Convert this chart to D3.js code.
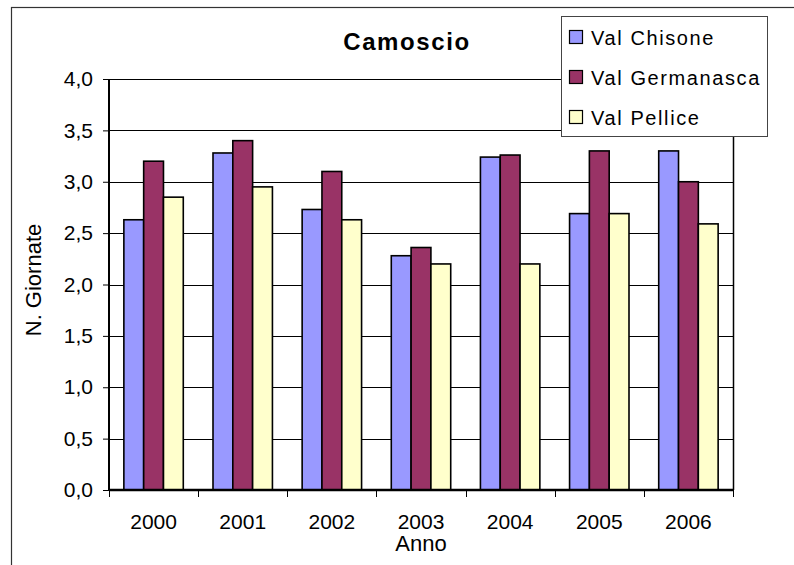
<!DOCTYPE html>
<html>
<head>
<meta charset="utf-8">
<script src="https://cdn.jsdelivr.net/npm/d3@7"></script>
<style>
  html, body { margin: 0; padding: 0; background: #fff; }
  svg { display: block; font-family: "Liberation Sans", Arial, sans-serif; }
</style>
</head>
<body>
<svg id="chart" width="794" height="565"></svg>
<script>
const years = ["2000", "2001", "2002", "2003", "2004", "2005", "2006"];
const seriesNames = ["Val Chisone", "Val Germanasca", "Val Pellice"];
const valChisone = [2.63, 3.28, 2.73, 2.28, 3.24, 2.69, 3.30];
const valGermanasca = [3.20, 3.40, 3.10, 2.36, 3.26, 3.30, 3.00];
const valPellice = [2.85, 2.95, 2.63, 2.20, 2.20, 2.69, 2.59];
const seriesColors = ["#9999FF", "#993366", "#FFFFCC"];
const yTicks = [0, 0.5, 1, 1.5, 2, 2.5, 3, 3.5, 4];
const titleText = "Camoscio";
const xTitle = "Anno";
const yTitle = "N. Giornate";

const seriesValues = [valChisone, valGermanasca, valPellice];

const svg = d3.select("#chart");
const plot = { left: 109, right: 733, top: 79, bottom: 490 };

// outer chart frame (only top and left edges fall inside the picture)
svg.append("rect")
  .attr("x", 11.5).attr("y", 7.5)
  .attr("width", 800).attr("height", 600)
  .attr("fill", "none").attr("stroke", "#333").attr("stroke-width", 1.2);

const y = d3.scaleLinear().domain([0, 4]).range([plot.bottom, plot.top]);
const gap = 1.5 / 4.5;
const x0 = d3.scaleBand().domain(years).range([plot.left, plot.right])
  .paddingInner(gap).paddingOuter(gap / 2);
const x1 = d3.scaleBand().domain(seriesNames).range([0, x0.bandwidth()]);

// gridlines
svg.append("g").selectAll("line").data(yTicks.filter(d => d > 0)).join("line")
  .attr("x1", plot.left).attr("x2", plot.right)
  .attr("y1", d => Math.round(y(d)) + 0.5).attr("y2", d => Math.round(y(d)) + 0.5)
  .attr("stroke", "#000").attr("stroke-width", 1);

// right border of plot area
svg.append("line")
  .attr("x1", plot.right + 0.5).attr("x2", plot.right + 0.5)
  .attr("y1", plot.top).attr("y2", plot.bottom)
  .attr("stroke", "#000").attr("stroke-width", 1.5);

// bars
const groups = svg.append("g").selectAll("g").data(years).join("g")
  .attr("transform", d => `translate(${x0(d)},0)`);
groups.selectAll("rect")
  .data((yr, i) => seriesNames.map((s, k) => ({ s, k, v: seriesValues[k][i] })))
  .join("rect")
  .attr("x", d => x1(d.s))
  .attr("width", x1.bandwidth())
  .attr("y", d => y(d.v))
  .attr("height", d => y(0) - y(d.v))
  .attr("fill", d => seriesColors[d.k])
  .attr("stroke", "#000").attr("stroke-width", 1.6);

// y axis
const yAxis = svg.append("g").attr("transform", `translate(${plot.left},0)`)
  .call(d3.axisLeft(y).tickValues(yTicks).tickSize(6).tickPadding(10)
    .tickFormat(d => d3.format(".1f")(d).replace(".", ",")));
yAxis.select(".domain").attr("stroke", "#000").attr("stroke-width", 2)
  .attr("d", `M0,${plot.top}V${plot.bottom}`);
yAxis.selectAll(".tick line").attr("stroke", "#000");
yAxis.selectAll(".tick text").attr("font-size", 21).attr("fill", "#000")
  .attr("font-family", "Liberation Sans, Arial, sans-serif");

// x axis
const xAxis = svg.append("g").attr("transform", `translate(0,${plot.bottom})`)
  .call(d3.axisBottom(x0).tickSize(0).tickPadding(24));
xAxis.select(".domain").attr("stroke", "#000").attr("stroke-width", 2.5)
  .attr("d", `M${plot.left},0H${plot.right}`);
xAxis.selectAll(".tick text").attr("font-size", 21).attr("fill", "#000")
  .attr("font-family", "Liberation Sans, Arial, sans-serif");
const boundaries = d3.range(years.length + 1).map(i => plot.left + i * x0.step());
xAxis.append("g").selectAll("line").data(boundaries).join("line")
  .attr("x1", d => Math.round(d) + 0.5).attr("x2", d => Math.round(d) + 0.5)
  .attr("y1", 0).attr("y2", 7)
  .attr("stroke", "#000").attr("stroke-width", 1);

// titles
svg.append("text").attr("x", 407).attr("y", 50)
  .attr("text-anchor", "middle").attr("font-size", 24).attr("font-weight", "bold")
  .attr("letter-spacing", 1.6).text(titleText);
svg.append("text").attr("x", (plot.left + plot.right) / 2).attr("y", 551)
  .attr("text-anchor", "middle").attr("font-size", 22).text(xTitle);
svg.append("text").attr("transform", "translate(41,280) rotate(-90)")
  .attr("text-anchor", "middle").attr("font-size", 22).text(yTitle);

// legend
const lg = svg.append("g");
lg.append("rect").attr("x", 561.5).attr("y", 16.5).attr("width", 206).attr("height", 120)
  .attr("fill", "#fff").attr("stroke", "#444").attr("stroke-width", 1);
const items = lg.selectAll("g.item").data(seriesNames).join("g")
  .attr("class", "item")
  .attr("transform", (d, i) => `translate(0,${37 + i * 40})`);
items.append("rect").attr("x", 569.5).attr("y", -6.5).attr("width", 13).attr("height", 13)
  .attr("fill", (d, i) => seriesColors[i]).attr("stroke", "#000").attr("stroke-width", 1.2);
items.append("text").attr("x", 591).attr("y", 7.5)
  .attr("font-size", 20).attr("letter-spacing", 1.6).text(d => d);
</script>
</body>
</html>
